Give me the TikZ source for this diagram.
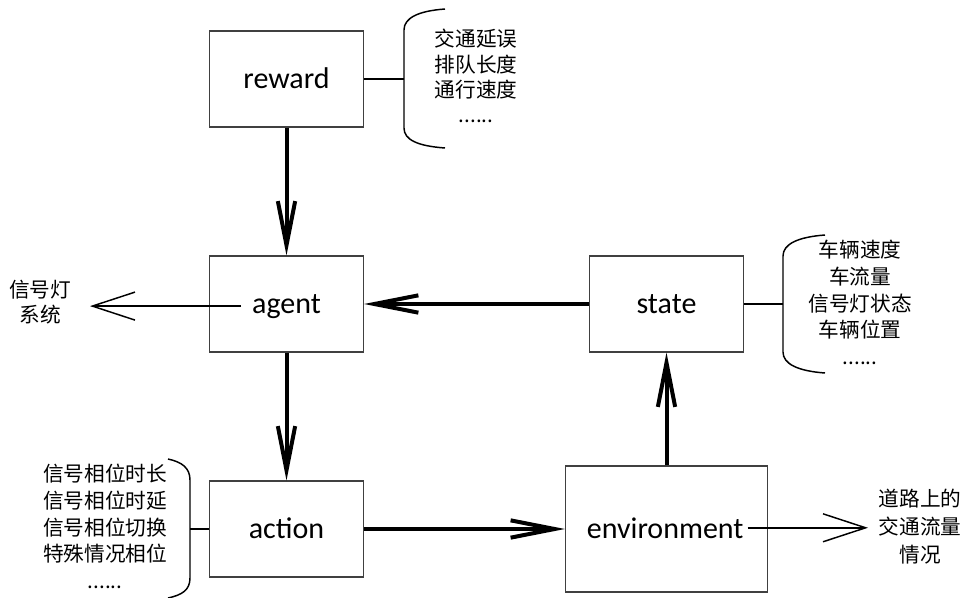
\documentclass[tikz,border=0pt]{standalone}
\usepackage{fontspec}
\setmainfont{Carlito}
\newfontfamily\cjk{Noto Sans CJK SC}
\usetikzlibrary{arrows.meta}
\begin{document}
\begin{tikzpicture}[x=0.75pt,y=-0.75pt,
  box/.style={draw=black!75, line width=0.8pt, fill=white, minimum width=115.5pt, minimum height=72pt, inner sep=0pt},
  lbl/.style={font=\fontsize{22.5}{26}\selectfont, inner sep=0pt, anchor=base},
  list/.style={font=\cjk\fontsize{15.5}{20}\selectfont, align=center, anchor=north, inner sep=0pt},
  flow/.style={line width=3pt, -{Straight Barb[length=33pt,width=13pt]}},
  outarrow/.style={line width=1.1pt, -{Straight Barb[length=32pt,width=21pt]}},
  link/.style={line width=1.1pt},
  brace/.style={line width=1.1pt}]
\useasboundingbox (0,0) rectangle (961,597);

% boxes
\node[box] (reward) at (286.5,79) {};
\node[lbl] (rewardT) at ([yshift=-6.75pt]reward.center) {reward};
\node[box] (agent) at (286.5,304) {};
\node[lbl] (agentT) at ([yshift=-6.75pt]agent.center) {agent};
\node[box] (action) at (286.5,529) {};
\node[lbl] (actionT) at ([yshift=-6.75pt]action.center) {action};
\node[box] (state) at (666.5,304) {};
\node[lbl] (stateT) at ([yshift=-6.75pt]state.center) {state};
\node[box, minimum width=151.5pt, minimum height=94.5pt] (env) at (666.5,529) {};
\node[lbl] (envT) at ([yshift=-6.75pt, xshift=-1pt]env.center) {environment};

% lists
\node[list, font=\cjk\fontsize{15.5}{19}\selectfont] (rewardL) at (476,29) {交通延误\\排队长度\\通行速度\\......};
\node[list] (stateL) at (860,240) {车辆速度\\车流量\\信号灯状态\\车辆位置\\......};
\node[list] (actionL) at (105,464) {信号相位时长\\信号相位时延\\信号相位切换\\特殊情况相位\\......};
\node[list, font=\cjk\fontsize{15.5}{19}\selectfont] (sysL) at (40,280) {信号灯\\系统};
\node[list, font=\cjk\fontsize{15.5}{21}\selectfont] (envL) at (920,489) {道路上的\\交通流量\\情况};

% coordinates
\coordinate (rb) at (404,79);
\coordinate (sb) at (783,304);
\coordinate (ab) at (190,529);
\coordinate (sig) at (90,302);
\coordinate (flowout) at (868,528);

% braces
\draw[brace] (445,9) .. controls (418,11) and (404,18) .. (404,30) -- (404,128) .. controls (404,140) and (418,146) .. (445,148);
\draw[brace] (825,235) .. controls (798,237) and (783,244) .. (783,256) -- (783,352) .. controls (783,364) and (798,371) .. (825,373);
\draw[brace] (168,459) .. controls (182,462) and (190,468) .. (190,480) -- (190,578) .. controls (190,590) and (182,595) .. (168,598);

% links to braces
\draw[link] (reward.east) -- (rb);
\draw[link] (state.east) -- (sb);
\draw[link] (action.west) -- (ab);

% output arrows
\draw[outarrow] ([xshift=-8pt]agentT.west) -- (sig |- agentT.west);
\draw[outarrow] ([xshift=3pt]envT.east) -- (flowout |- envT.east);

% main flow
\draw[flow] (reward.south) -- (agent.north);
\draw[flow] (agent.south) -- (action.north);
\draw[flow] (action.east) -- (env.west);
\draw[flow] (env.north) -- (state.south);
\draw[flow] (state.west) -- (agent.east);
\end{tikzpicture}
\end{document}
